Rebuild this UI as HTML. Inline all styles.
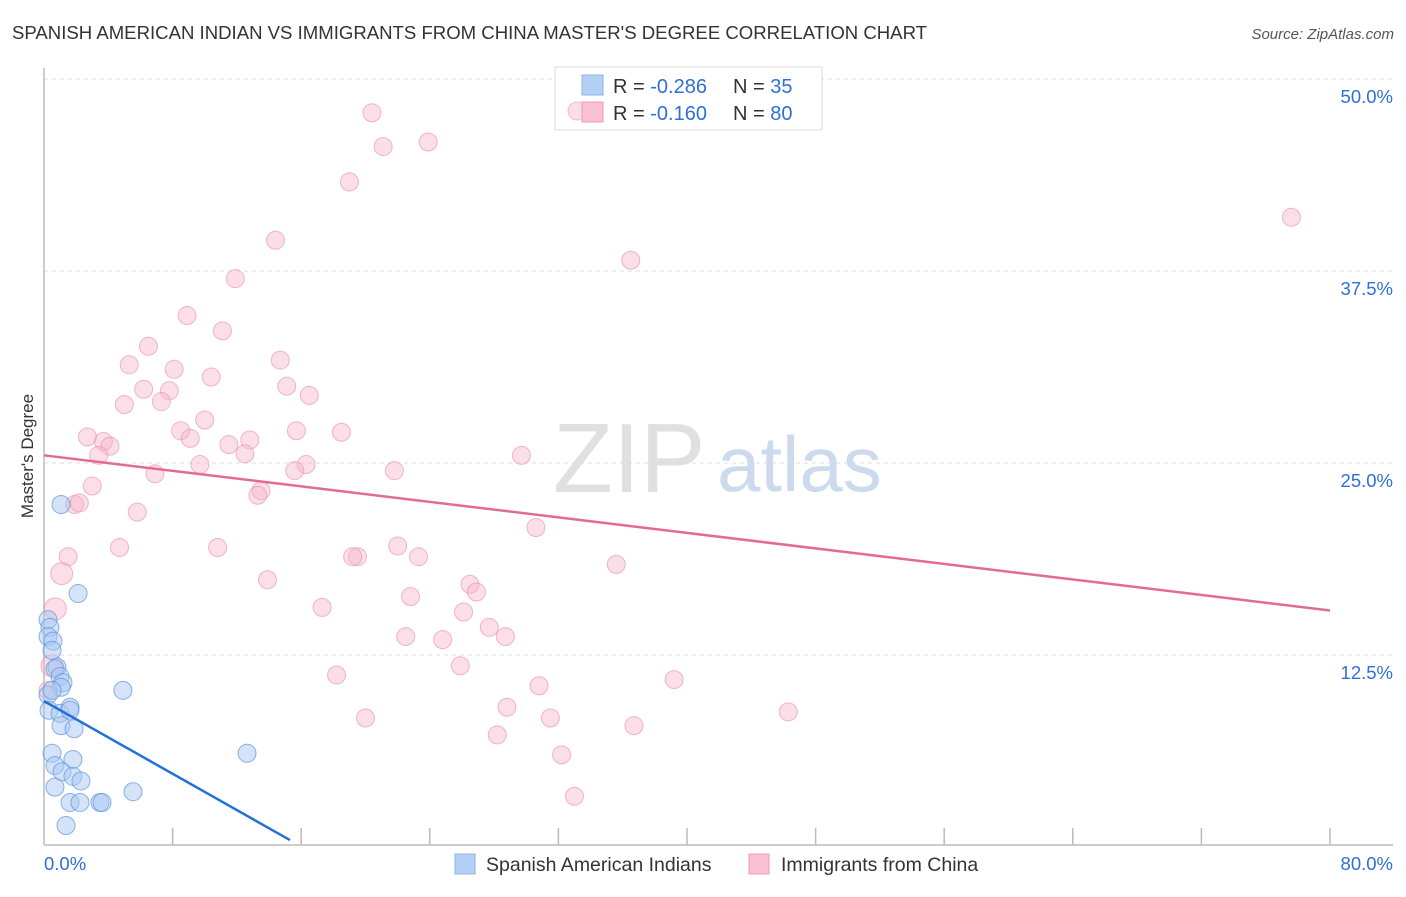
<!DOCTYPE html>
<html><head><meta charset="utf-8">
<style>
html,body{margin:0;padding:0;background:#fff;}
body{width:1406px;height:892px;overflow:hidden;font-family:"Liberation Sans",sans-serif;}
svg text{font-family:"Liberation Sans",sans-serif;}
</style></head>
<body>
<svg id="chart" width="1406" height="892" xmlns="http://www.w3.org/2000/svg">
<text x="12" y="39" font-size="18.5" fill="#333" textLength="915" lengthAdjust="spacingAndGlyphs">SPANISH AMERICAN INDIAN VS IMMIGRANTS FROM CHINA MASTER'S DEGREE CORRELATION CHART</text>
<text x="1394" y="39" font-size="15" fill="#555" font-style="italic" text-anchor="end">Source: ZipAtlas.com</text>
<g>
<text x="553" y="492" font-size="98" fill="#d4d4d4" font-family="Liberation Serif" opacity="0.7">ZIP</text>
<text x="717" y="491" font-size="78" fill="#b8cbe8" opacity="0.7">atlas</text>
</g>
<g id="grid"></g>
<g id="axes"></g>
<g id="pts"></g>
<g id="lines"></g>
<text transform="translate(33,456) rotate(-90)" font-size="17" fill="#333" text-anchor="middle">Master's Degree</text>
<g>
<rect x="555" y="67" width="267" height="63" fill="#fff" stroke="#ddd"/>
<circle cx="577" cy="111" r="9" fill="#f7b6c9" fill-opacity="0.45" stroke="#e98aa8" stroke-opacity="0.5"/>
<rect x="582" y="75" width="21" height="20" fill="#b5d0f5" stroke="#8ab3ea"/>
<rect x="582" y="102" width="21" height="20" fill="#f9c1d1" stroke="#ef9ab5"/>
<text x="613" y="93" font-size="20" fill="#333">R = <tspan fill="#2f6fd6">-0.286</tspan><tspan x="733">N = </tspan><tspan fill="#2f6fd6">35</tspan></text>
<text x="613" y="120" font-size="20" fill="#333">R = <tspan fill="#2f6fd6">-0.160</tspan><tspan x="733">N = </tspan><tspan fill="#2f6fd6">80</tspan></text>
</g>
<g>
<rect x="455" y="854" width="20" height="20" fill="#b5d0f5" stroke="#8ab3ea"/>
<text x="486" y="871" font-size="19.5" fill="#333">Spanish American Indians</text>
<rect x="749" y="854" width="20" height="20" fill="#f9c1d1" stroke="#ef9ab5"/>
<text x="781" y="871" font-size="19.5" fill="#333">Immigrants from China</text>
</g>
</svg>
<script>
const yTicks=[12.5,25,37.5,50];
const yTickLabels=["12.5%","25.0%","37.5%","50.0%"];
const xTickVals=[8,16,24,32,40,48,56,64,72,80];
const xEndLabels=["0.0%","80.0%"];
const blueX=[1.06,2.12,0.25,0.37,0.25,0.56,0.5,0.81,0.68,1.0,1.18,1.06,4.91,0.25,0.31,1.0,1.62,1.62,1.06,1.87,0.5,0.68,1.8,1.12,1.8,2.3,0.68,1.62,2.24,3.48,3.61,5.54,1.37,12.63,0.5];
const blueY=[22.3,16.5,14.8,14.3,13.7,13.4,12.8,11.7,11.6,11.1,10.7,10.4,10.2,9.9,8.9,8.7,9.1,8.9,7.9,7.7,6.1,5.3,5.7,4.9,4.6,4.3,3.9,2.9,2.9,2.9,2.9,3.6,1.4,6.1,10.2];
const pinkX=[20.4,21.1,23.9,19.0,77.6,14.4,36.5,11.9,8.9,11.1,6.5,14.7,5.3,8.1,10.4,15.1,6.2,16.5,7.8,7.3,5.0,10.0,8.5,15.7,18.5,2.7,3.7,4.1,9.1,11.5,12.8,12.5,3.4,16.3,29.7,9.7,6.9,15.6,21.8,3.0,13.5,13.3,1.9,2.2,5.8,30.6,4.7,10.8,1.5,22.0,19.5,19.2,23.3,35.6,1.1,13.9,26.5,22.8,26.9,17.3,26.1,0.7,27.7,22.5,28.7,24.8,25.9,18.2,39.2,30.8,28.8,20.0,31.5,46.3,36.7,28.2,32.2,33.0,0.5,0.25];
const pinkY=[47.8,45.6,45.9,43.3,41.0,39.5,38.2,37.0,34.6,33.6,32.6,31.7,31.4,31.1,30.6,30.0,29.8,29.4,29.7,29.0,28.8,27.8,27.1,27.1,27.0,26.7,26.4,26.1,26.6,26.2,26.5,25.6,25.5,24.9,25.5,24.9,24.3,24.5,24.5,23.5,23.2,22.9,22.3,22.4,21.8,20.8,19.5,19.5,18.9,19.6,18.9,18.9,18.9,18.4,17.8,17.4,17.1,16.3,16.6,15.6,15.3,15.5,14.3,13.7,13.7,13.5,11.8,11.2,10.9,10.5,9.1,8.4,8.4,8.8,7.9,7.3,6.0,3.3,11.8,10.2];
const pinkBig=[0.7,1.1,0.5];
const blueTrend=[[0,9.5],[15.3,0.45]];
const pinkTrend=[[0,25.5],[80,15.4]];
const X0=44,X1=1330,Y0=847,PXY=15.36;
const sx=v=>X0+v*(X1-X0)/80;
const sy=v=>Y0-v*PXY;
const NS="http://www.w3.org/2000/svg";
function mk(tag,attrs,parent){const e=document.createElementNS(NS,tag);for(const k in attrs)e.setAttribute(k,attrs[k]);parent.appendChild(e);return e;}
const grid=document.getElementById('grid'),axes=document.getElementById('axes'),pts=document.getElementById('pts'),lines=document.getElementById('lines');
yTicks.forEach((t,i)=>{
 const l=mk('line',{x1:X0,x2:1393,y1:sy(t),y2:sy(t),stroke:'#ddd','stroke-dasharray':'4,4'},grid);
 
 
 const tx=mk('text',{x:1393,y:sy(t)+24,'font-size':18.5,fill:'#2f6fd6','text-anchor':'end'},axes);
 tx.textContent=yTickLabels[i];
 
 
});
const ax=mk('line',{x1:X0,x2:1393,y1:845,y2:845,stroke:'#bbb','stroke-width':1.5},axes);


const ay=mk('line',{x1:X0,x2:X0,y1:68,y2:845,stroke:'#bbb','stroke-width':1.5},axes);


xTickVals.forEach(v=>{
 const t=mk('line',{x1:sx(v),x2:sx(v),y1:828,y2:845,stroke:'#bbb','stroke-width':1.5},axes);
 
 
});
const xl0=mk('text',{x:44,y:870,'font-size':18.5,fill:'#2f6fd6'},axes);
xl0.textContent=xEndLabels[0];


const xl1=mk('text',{x:1393,y:870,'font-size':18.5,fill:'#2f6fd6','text-anchor':'end'},axes);
xl1.textContent=xEndLabels[1];


pinkX.forEach((x,i)=>{
 const big=pinkBig.includes(x)&&x<1.2;
 const c=mk('circle',{cx:sx(x),cy:sy(pinkY[i]),r:big?11:9,fill:'#f7b6c9','fill-opacity':0.45,stroke:'#e98aa8','stroke-opacity':0.6},pts);
 
 
});
blueX.forEach((x,i)=>{
 const c=mk('circle',{cx:sx(x),cy:sy(blueY[i]),r:9,fill:'#a9c8f2','fill-opacity':0.5,stroke:'#5b93e0','stroke-opacity':0.7},pts);
 
 
});
const bl=mk('line',{x1:sx(blueTrend[0][0]),y1:sy(blueTrend[0][1]),x2:sx(blueTrend[1][0]),y2:sy(blueTrend[1][1]),stroke:'#2271d8','stroke-width':2.5},lines);


const pl=mk('line',{x1:sx(pinkTrend[0][0]),y1:sy(pinkTrend[0][1]),x2:sx(pinkTrend[1][0]),y2:sy(pinkTrend[1][1]),stroke:'#e46a96','stroke-width':2.5},lines);


</script>
</body></html>
